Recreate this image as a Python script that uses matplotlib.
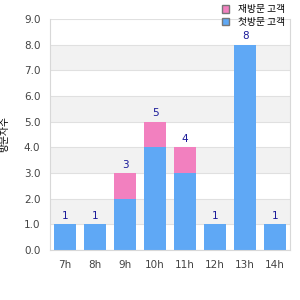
import matplotlib.pyplot as plt
import numpy as np

hours = ["7h", "8h", "9h", "10h", "11h", "12h", "13h", "14h"]
first_visit = [1, 1, 2, 4, 3, 1, 8, 1]
return_visit = [0, 0, 1, 1, 1, 0, 0, 0]
totals = [a + b for a, b in zip(first_visit, return_visit)]

plt.rcParams['font.family'] = ['Noto Sans CJK KR', 'DejaVu Sans']

fig = plt.figure(figsize=(3, 3), dpi=100)
ax = fig.add_axes([0.167, 0.167, 0.8, 0.77])

# alternating bands
for lo in [1, 3, 5, 7]:
    ax.axhspan(lo, lo + 1, color="#f2f2f2", zorder=0, lw=0)
for y in range(0, 10):
    ax.axhline(y, color="#e0e0e0", lw=0.8, zorder=0.5)

x = np.arange(len(hours))
blue = "#5fa8f5"
pink = "#f280bf"
b1 = ax.bar(x, first_visit, width=0.72, color=blue, zorder=2, label="첫방문 고객")
b2 = ax.bar(x, return_visit, width=0.72, bottom=first_visit, color=pink, zorder=2, label="재방문 고객")

for xi, t in zip(x, totals):
    ax.text(xi, t + 0.12, str(t), ha="center", va="bottom", fontsize=7.5,
            color="#1a1a99", family="DejaVu Sans")

ax.set_xlim(-0.5, len(hours) - 0.5)
ax.set_ylim(0, 9)
ax.set_yticks(range(0, 10))
ax.set_yticklabels([f"{v:.1f}" for v in range(0, 10)])
ax.set_xticks(x)
ax.set_xticklabels(hours)
ax.tick_params(length=0, labelsize=7.5, colors="#444444", pad=7)
for lab in ax.get_xticklabels() + ax.get_yticklabels():
    lab.set_family("DejaVu Sans")
for s in ["left", "bottom", "right"]:
    ax.spines[s].set_color("#d8d8d8")
ax.spines["top"].set_visible(False)

ax.set_ylabel("방문자수", fontsize=7)
ax.yaxis.set_label_coords(-0.17, 0.5)

leg = fig.legend(handles=[b2, b1], loc="upper right", bbox_to_anchor=(0.98, 1.015),
                 frameon=False, fontsize=7, handlelength=0.8, handleheight=0.8,
                 labelspacing=0.25, handletextpad=0.9)
for h in leg.legend_handles:
    h.set_edgecolor("#777777")
    h.set_linewidth(1.0)

fig.savefig("out.png", dpi=100)
